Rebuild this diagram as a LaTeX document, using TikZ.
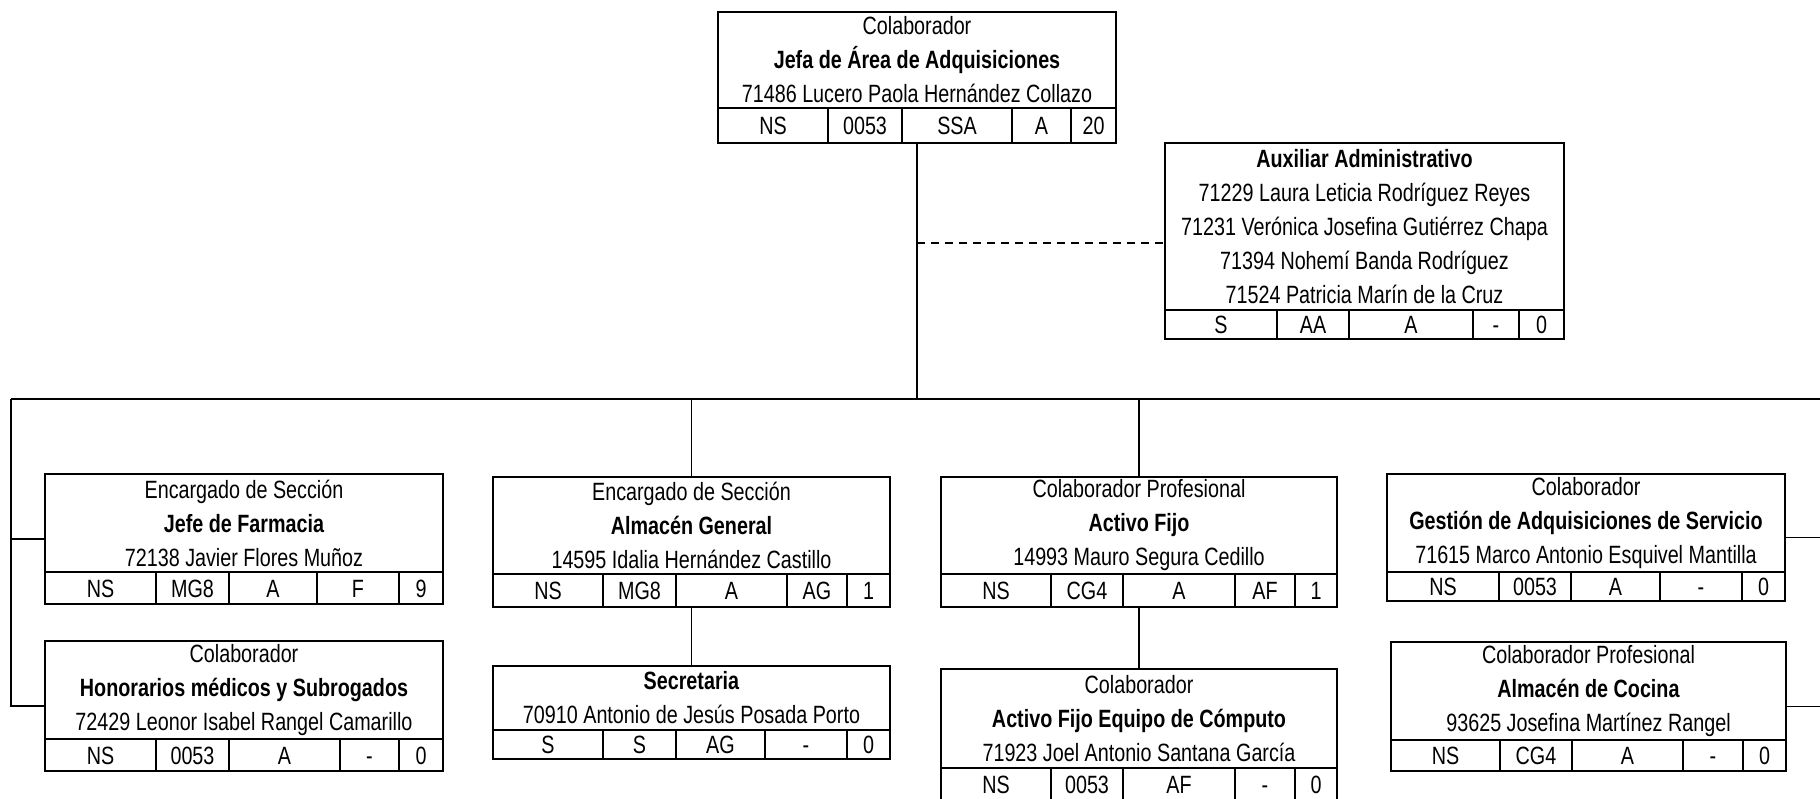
\documentclass[tikz,border=0pt]{standalone}
\usepackage{fontspec}
\setmainfont{Liberation Sans}[FakeStretch=0.79]
\usetikzlibrary{positioning,calc}

% row of five cells under a box: #1 box, #2 height, #3 width/text list
\newcommand\fila[3]{%
  \foreach \w/\t [count=\i, remember=\i as \j (initially 0)] in {#3}{
    \ifnum\i=1
      \node[celda,minimum width=\w pt,minimum height=#2pt,anchor=north west] (#1-\i) at (#1.south west) {\t};
    \else
      \node[celda,minimum width=\w pt,minimum height=#2pt,right=0pt of #1-\j] (#1-\i) {\t};
    \fi
  }%
  \coordinate (#1-mid) at ($(#1.north west)!0.5!(#1-1.south west)$);
  \coordinate (#1-mide) at ($(#1.north east)!0.5!(#1-5.south east)$);
}

\begin{document}
\begin{tikzpicture}[x=1pt,y=-1pt]
  \tikzset{
    caja/.style={draw,line width=2.4pt,inner sep=0pt,outer sep=0pt,align=center,
      anchor=north west,font=\fontsize{25}{34}\selectfont},
    celda/.style={draw,line width=2.4pt,inner sep=0pt,outer sep=0pt,
      text height=18pt,text depth=0pt,font=\fontsize{25}{30}\selectfont},
    linea/.style={line width=1.6pt}
  }
  \useasboundingbox (0,0) rectangle (1820,799);

  % jefatura
  \node[caja,minimum width=398pt,minimum height=96pt] (jefa) at (718,12)
    {Colaborador\\\textbf{Jefa de Área de Adquisiciones}\\71486 Lucero Paola Hernández Collazo};
  \fila{jefa}{35}{110/NS,74/0053,110/SSA,59/A,45/20}

  \node[caja,minimum width=399pt,minimum height=167pt] (aux) at (1165,143)
    {\textbf{Auxiliar Administrativo}\\71229 Laura Leticia Rodríguez Reyes\\
     71231 Verónica Josefina Gutiérrez Chapa\\71394 Nohemí Banda Rodríguez\\
     71524 Patricia Marín de la Cruz};
  \fila{aux}{29}{112/S,72/AA,124/A,46/-,45/0}

  % secciones
  \node[caja,minimum width=398pt,minimum height=98pt] (farm) at (45,474)
    {Encargado de Sección\\\textbf{Jefe de Farmacia}\\72138 Javier Flores Muñoz};
  \fila{farm}{32}{111/NS,73/MG8,88/A,82/F,44/9}

  \node[caja,minimum width=398pt,minimum height=98pt] (hon) at (45,641)
    {Colaborador\\\textbf{Honorarios médicos y Subrogados}\\72429 Leonor Isabel Rangel Camarillo};
  \fila{hon}{32}{111/NS,73/0053,111/A,59/-,44/0}

  \node[caja,minimum width=397pt,minimum height=97pt] (almg) at (493,477)
    {Encargado de Sección\\\textbf{Almacén General}\\14595 Idalia Hernández Castillo};
  \fila{almg}{33}{110/NS,73/MG8,111/A,60/AG,43/1}

  \node[caja,minimum width=397pt,minimum height=64pt] (secr) at (493,666)
    {\textbf{Secretaria}\\70910 Antonio de Jesús Posada Porto};
  \fila{secr}{29}{110/S,73/S,89/AG,82/-,43/0}

  \node[caja,minimum width=396pt,minimum height=97pt] (act) at (941,477)
    {Colaborador Profesional\\\textbf{Activo Fijo}\\14993 Mauro Segura Cedillo};
  \fila{act}{33}{110/NS,72/CG4,112/A,60/AF,42/1}

  \node[caja,minimum width=396pt,minimum height=99pt] (comp) at (941,669)
    {Colaborador\\\textbf{Activo Fijo Equipo de Cómputo}\\71923 Joel Antonio Santana García};
  \fila{comp}{33}{110/NS,72/0053,112/AF,60/-,42/0}

  \node[caja,minimum width=398pt,minimum height=98pt] (gest) at (1387,474)
    {Colaborador\\\textbf{Gestión de Adquisiciones de Servicio}\\71615 Marco Antonio Esquivel Mantilla};
  \fila{gest}{29}{112/NS,72/0053,89/A,82/-,43/0}

  \node[caja,minimum width=395pt,minimum height=98pt] (coc) at (1391,642)
    {Colaborador Profesional\\\textbf{Almacén de Cocina}\\93625 Josefina Martínez Rangel};
  \fila{coc}{31}{109/NS,72/CG4,111/A,60/-,43/0}

  % connectors
  \coordinate (busL) at (11,399);
  \coordinate (busR) at (1821,399);
  \coordinate (rama) at (917,243);
  \draw[linea] (jefa.north |- jefa-3.south) -- (jefa.north |- busL);
  \draw[linea,dash pattern=on 8pt off 6pt] (rama) -- (rama -| aux.west);
  \draw[linea] (busL) -- (busR);
  \draw[linea] (busL) -- (busL |- hon-mid) -- (hon-mid);
  \draw[linea] (busL |- farm-mid) -- (farm-mid);
  \draw[linea] (busR) -- (busR |- coc-mide) -- (coc-mide);
  \draw[linea] (busR |- gest-mide) -- (gest-mide);
  \draw[linea] (almg.north |- busL) -- (almg.north);
  \draw[linea] (almg.north |- almg-3.south) -- (secr.north);
  \draw[linea] (act.north |- busL) -- (act.north);
  \draw[linea] (act.north |- act-3.south) -- (comp.north);
\end{tikzpicture}
\end{document}
